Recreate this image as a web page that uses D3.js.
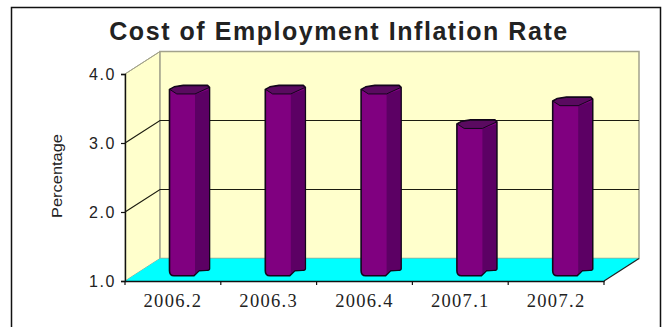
<!DOCTYPE html>
<html>
<head>
<meta charset="utf-8">
<script src="https://cdn.jsdelivr.net/npm/d3@7"></script>
<style>
html,body{margin:0;padding:0;background:#fff;overflow:hidden}
svg{display:block}
</style>
</head>
<body>
<svg id="chart" width="670" height="327"></svg>
<script>
const titleText = "Cost of Employment Inflation Rate";
const axisTitle = "Percentage";
const categories = ["2006.2", "2006.3", "2006.4", "2007.1", "2007.2"];
const values = [3.6, 3.6, 3.6, 3.1, 3.43];
const yTicks = [1, 2, 3, 4];

const svg = d3.select("#chart");
const sans = '"Liberation Sans",Arial,sans-serif';
const serif = '"Liberation Serif","Times New Roman",serif';

// Oblique projection: the back wall is shifted right and up from the front plane.
const depthX = 35, depthY = -22.5;
const x = d3.scaleBand().domain(categories).range([125, 604]);
const y = d3.scaleLinear().domain([1, 4]).range([281, 74]);
const x0 = x.range()[0], x1 = x.range()[1];
const project = (px, py, d) => [px + depthX * d, py + depthY * d];
const pts = a => a.map(p => p.join(",")).join(" ");

// Frame (open at the bottom edge of the page)
svg.append("path")
  .attr("d", "M11.5,327V7.5H660.5V327")
  .attr("fill", "none").attr("stroke", "#111").attr("stroke-width", 1.5);

svg.append("text")
  .attr("x", 339).attr("y", 40)
  .attr("text-anchor", "middle")
  .style("font-family", sans).style("font-size", "25px").style("font-weight", "bold")
  .style("letter-spacing", "1.55px").style("fill", "#222")
  .text(titleText);

// Walls and floor
const wallStroke = "#a3a38c";
svg.append("polygon")
  .attr("points", pts([project(x0, y(4), 0), project(x0, y(4), 1), project(x0, y(1), 1), project(x0, y(1), 0)]))
  .attr("fill", "#ffffcc").attr("stroke", wallStroke).attr("stroke-width", 1);
svg.append("polygon")
  .attr("points", pts([project(x0, y(4), 1), project(x1, y(4), 1), project(x1, y(1), 1), project(x0, y(1), 1)]))
  .attr("fill", "#ffffcc").attr("stroke", wallStroke).attr("stroke-width", 1.5);
svg.append("polygon")
  .attr("points", pts([project(x0, y(1), 0), project(x0, y(1), 1), project(x1, y(1), 1), project(x1, y(1), 0)]))
  .attr("fill", "#00ffff");

// Gridlines run along the side wall and across the back wall
svg.append("g").selectAll("polyline")
  .data(yTicks.filter(t => t === 2 || t === 3))
  .join("polyline")
  .attr("points", t => pts([project(x0, y(t), 0), project(x0, y(t), 1), project(x1, y(t), 1)]))
  .attr("fill", "none").attr("stroke", "#1c1c10").attr("stroke-width", 1.2);

// Top edge of the side wall
svg.append("line")
  .attr("x1", x0).attr("y1", y(4))
  .attr("x2", x0 + depthX).attr("y2", y(4) + depthY)
  .attr("stroke", wallStroke).attr("stroke-width", 1);

// Floor edge on the right, from the front corner to the back wall
svg.append("line")
  .attr("x1", x1).attr("y1", y(1))
  .attr("x2", x1 + depthX).attr("y2", y(1) + depthY)
  .attr("stroke", "#222").attr("stroke-width", 1.2);

// Columns: faceted prisms with a lit front face and a shaded right face
const barWidth = 40.5;
const barOffset = 44;
const bars = svg.append("g").selectAll("g")
  .data(categories.map((c, i) => ({c, v: values[i]})))
  .join("g")
  .attr("transform", d => `translate(${x(d.c) + barOffset},0)`);

const yMid = v => y(v) + depthY / 2;
const split = 26;

bars.append("path")
  .attr("d", d => {
    const t = yMid(d.v), b = yMid(1);
    return `M0.5,${t - 1} L${split * 0.2},${t - 3.5} L${split * 0.55},${t - 5}
      L${barWidth - 2},${t - 5} L${barWidth},${t - 3}
      L${barWidth},${b - 1} Q${barWidth},${b + 0.5} ${barWidth - 3},${b + 0.5}
      L${split + 4},${b + 1} L${split - 1},${b + 6} L5,${b + 6} Q0.5,${b + 6} 0.5,${b + 1} Z`;
  })
  .attr("fill", "#800080").attr("stroke", "#12061a").attr("stroke-width", 1.6)
  .attr("stroke-linejoin", "round");

// Shaded right-hand facet
bars.append("path")
  .attr("d", d => {
    const t = yMid(d.v), b = yMid(1);
    return `M${split},${t + 4} L${barWidth - 0.8},${t - 0.5} L${barWidth - 0.8},${b - 0.5}
      Q${barWidth - 0.8},${b - 0.2} ${barWidth - 3},${b - 0.2}
      L${split + 4},${b + 0.2} L${split},${b + 4} Z`;
  })
  .attr("fill", "#5c0064");

// Top cap
bars.append("path")
  .attr("d", d => {
    const t = yMid(d.v);
    return `M1,${t - 0.8} L${split * 0.2},${t - 3.3} L${split * 0.55},${t - 4.6}
      L${barWidth - 2},${t - 4.6} L${barWidth - 0.5},${t - 2.8}
      L${split},${t + 3.6} L${split * 0.3},${t + 3.6} Z`;
  })
  .attr("fill", "#5a0a60").attr("stroke", "#12061a").attr("stroke-width", 1);

// Value axis
const yAxis = d3.axisLeft(y).tickValues(yTicks).tickSize(4).tickPadding(5)
  .tickFormat(d3.format(".1f"));
const yG = svg.append("g").attr("transform", `translate(${x0},0)`).call(yAxis);
yG.select(".domain").attr("stroke", "#111").attr("stroke-width", 1.4);
yG.selectAll("line").attr("stroke", "#111").attr("stroke-width", 1.2);
yG.selectAll("text")
  .style("font-family", sans).style("font-size", "16px")
  .style("letter-spacing", "1.6px").style("fill", "#222");

// Category axis, with ticks on the band edges
const xAxis = d3.axisBottom(x).tickSize(0).tickPadding(13);
const xG = svg.append("g").attr("transform", `translate(0,${y(1)})`).call(xAxis);
xG.select(".domain").attr("stroke", "#111").attr("stroke-width", 1.4);
xG.selectAll("text")
  .style("font-family", serif).style("font-size", "18.5px")
  .style("letter-spacing", "1.3px").style("fill", "#222");
svg.append("g").selectAll("line")
  .data(categories.concat("end"))
  .join("line")
  .attr("x1", (d, i) => x0 + i * x.step()).attr("x2", (d, i) => x0 + i * x.step())
  .attr("y1", y(1)).attr("y2", y(1) + 4)
  .attr("stroke", "#111").attr("stroke-width", 1.2);

svg.append("text")
  .attr("transform", "translate(62,176) rotate(-90) scale(1.06,1)")
  .attr("text-anchor", "middle")
  .style("font-family", sans).style("font-size", "15.5px").style("fill", "#222")
  .text(axisTitle);
</script>
</body>
</html>
